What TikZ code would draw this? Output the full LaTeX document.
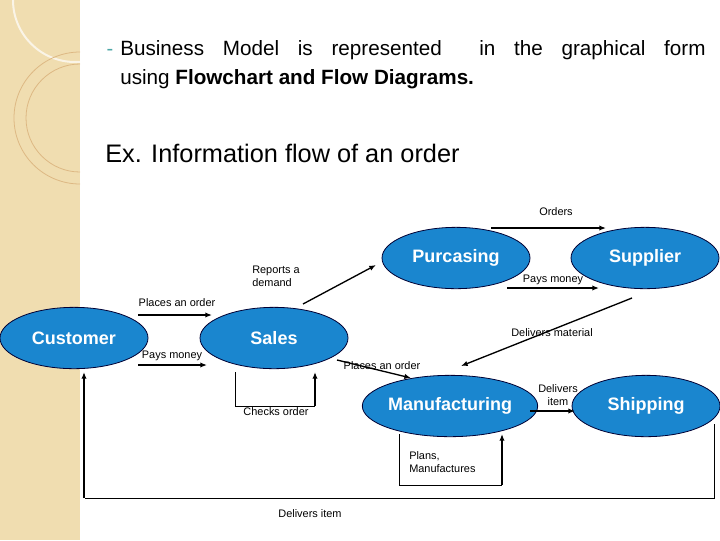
\documentclass[tikz,border=0pt]{standalone}
\usepackage{fontspec}
\setmainfont{Liberation Sans}
\usetikzlibrary{shapes.geometric,arrows.meta}
\definecolor{ell}{HTML}{1A86CF}
\definecolor{beige}{HTML}{F0DDB0}
\begin{document}
\begin{tikzpicture}[x=0.75pt,y=-0.75pt,
  el/.style={ellipse,draw=black!80!blue,line width=0.6pt,fill=ell,minimum width=111pt,minimum height=46pt,inner sep=0pt,text=white,font=\bfseries\fontsize{13.5}{15}\selectfont},
  lb/.style={font=\fontsize{8.2}{10}\selectfont,inner sep=0pt},
  ar/.style={-{Latex[length=5pt,width=4pt]},line width=1pt},
  ln/.style={line width=0.6pt}]
\useasboundingbox (0,0) rectangle (720,540);
\fill[beige] (0,0) rectangle (80,540);
\begin{scope}
\clip (0,0) rectangle (80,540);
\draw[white,line width=1.5pt,opacity=0.7] (75,0) circle (62);
\draw[beige!60!brown,line width=0.6pt] (80,118) circle (66);
\draw[beige!60!brown,line width=0.6pt] (80,118) circle (54);
\end{scope}
\node[text=teal!70,font=\fontsize{15}{18}\selectfont,anchor=base] (dash) at (110,55) {-};
\node[anchor=base west,inner sep=0pt,font=\fontsize{15.5}{18}\selectfont] (l1) at (120,55) {\makebox[439pt][s]{Business Model is represented \ in the graphical form}};
\node[anchor=base west,inner sep=0pt,font=\fontsize{15.5}{18}\selectfont] (l2) at (120,84) {using \textbf{Flowchart and Flow Diagrams.}};
\node[anchor=base west,inner sep=0pt,font=\fontsize{19}{22}\selectfont] (ex) at (105,162) {Ex. Information flow of an order};

\node[el] (cu) at (74,338) {Customer};
\node[el] (sa) at (274,338) {Sales};
\node[el] (pu) at (456,258) {Purcasing};
\node[el] (su) at (645,258) {Supplier};
\node[el] (ma) at (450,406) {Manufacturing};
\node[el] (sh) at (646,406) {Shipping};

\coordinate (a1) at (138,315); \coordinate (a2) at (212,315);
\draw[ar] (a1) -- (a2);
\node[lb] (t1) at (177,303) {Places an order};
\coordinate (b1) at (138,365); \coordinate (b2) at (207,365);
\draw[ar] (b1) -- (b2);
\node[lb] (t2) at (172,356) {Pays money};
\coordinate (c1) at (303,304); \coordinate (c2) at (376,265);
\draw[ar] (c1) -- (c2);
\node[lb,align=left,anchor=west] (t3) at (252,276) {Reports a\\demand};
\coordinate (d1) at (491,228); \coordinate (d2) at (606,228);
\draw[ar] (d1) -- (d2);
\node[lb] (t4) at (556,212) {Orders};
\coordinate (e1) at (507,288); \coordinate (e2) at (599,288);
\draw[ar] (e1) -- (e2);
\node[lb] (t5) at (553,280) {Pays money};
\coordinate (f1) at (632,298); \coordinate (f2) at (461,366);
\draw[ar] (f1) -- (f2);
\node[lb] (t6) at (552,333) {Delivers material};
\coordinate (g1) at (337,360); \coordinate (g2) at (411,378);
\draw[ar] (g1) -- (g2);
\node[lb] (t7) at (382,366) {Places an order};
\coordinate (h1) at (235,372); \coordinate (h2) at (315,372);
\draw[ln] (h1) -- (235,406) -- (315,406);
\draw[ar] (315,406) -- (h2);
\node[lb] (t8) at (276,412) {Checks order};
\coordinate (i1) at (399,434); \coordinate (i2) at (502,434);
\draw[ln] (i1) -- (399,485) -- (502,485);
\draw[ar] (502,485) -- (i2);
\node[lb,align=left,anchor=west] (t9) at (409,462) {Plans,\\Manufactures};
\coordinate (j1) at (530,411); \coordinate (j2) at (575,411);
\draw[ar] (j1) -- (j2);
\node[lb,align=center] (t10) at (558,395) {Delivers\\item};
\coordinate (k1) at (714,424); \coordinate (k2) at (84,372);
\draw[ln] (k1) -- (714,498) -- (85,498);
\draw[ar] (84,498) -- (k2);
\node[lb] (t11) at (310,514) {Delivers item};
\end{tikzpicture}
\end{document}
